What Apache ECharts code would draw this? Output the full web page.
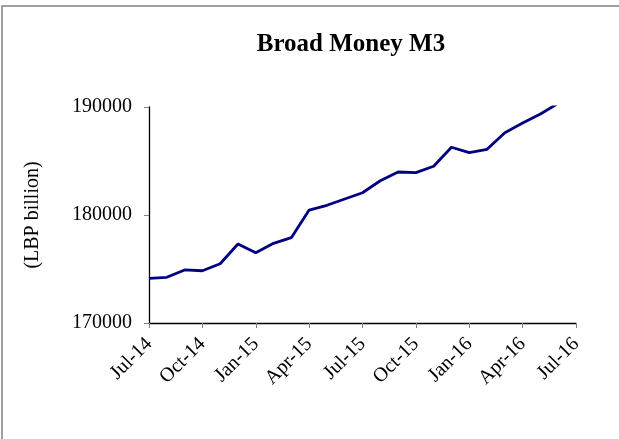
<!DOCTYPE html>
<html>
<head>
<meta charset="utf-8">
<script src="https://cdn.jsdelivr.net/npm/echarts@6/dist/echarts.min.js"></script>
<style>
  html, body { margin: 0; padding: 0; background: #fff; }
  #chart { width: 619px; height: 439px; }
</style>
</head>
<body>
<div id="chart"></div>
<script>
// 月份（Jul-14 .. Jul-16）
var months = [
  "Jul-14", "Aug-14", "Sep-14", "Oct-14", "Nov-14", "Dec-14",
  "Jan-15", "Feb-15", "Mar-15", "Apr-15", "May-15", "Jun-15",
  "Jul-15", "Aug-15", "Sep-15", "Oct-15", "Nov-15", "Dec-15",
  "Jan-16", "Feb-16", "Mar-16", "Apr-16", "May-16", "Jun-16",
  "Jul-16"
];
// Broad Money M3 (LBP billion)
var m3Values = [
  174140, 174230, 174910, 174840, 175490, 177310,
  176510, 177380, 177900, 180460, 180900, 181480,
  182060, 183170, 183980, 183920, 184510, 186270,
  185770, 186080, 187620, 188520, 189350, 190340
];
var yTicks = [170000, 180000, 190000];

var serif = "'Liberation Serif', 'DejaVu Serif', serif";
var myChart = echarts.init(document.getElementById("chart"));

var option = {
  backgroundColor: "#fff",
  animation: false,
  title: {
    text: "Broad Money M3",
    left: 346,
    top: 27,
    textAlign: "center",
    textStyle: {
      fontFamily: serif,
      fontWeight: "bold",
      fontSize: 25,
      color: "#000"
    }
  },
  graphic: [
    {
      type: "polyline",
      shape: { points: [[2, 439], [2, 6], [619, 6]] },
      style: { stroke: "#808080", lineWidth: 1.5, fill: null }
    }
  ],
  grid: {
    left: 149,
    right: 43,
    top: 107,
    bottom: 116
  },
  xAxis: {
    type: "category",
    boundaryGap: false,
    data: months,
    axisLine: { lineStyle: { color: "#000", width: 1.3 } },
    axisTick: {
      show: true,
      interval: 2,
      length: 5,
      lineStyle: { color: "#808080" }
    },
    axisLabel: {
      interval: 2,
      rotate: 45,
      margin: 18,
      fontFamily: serif,
      fontSize: 20,
      color: "#000"
    },
    splitLine: { show: false }
  },
  yAxis: {
    type: "value",
    min: yTicks[0],
    max: yTicks[yTicks.length - 1],
    interval: 10000,
    name: "(LBP billion)",
    nameLocation: "middle",
    nameRotate: 90,
    nameGap: 106,
    nameTextStyle: {
      fontFamily: serif,
      fontSize: 20,
      color: "#000"
    },
    axisLine: { show: true, lineStyle: { color: "#000", width: 1.3 } },
    axisTick: {
      show: true,
      length: 5,
      lineStyle: { color: "#808080" }
    },
    axisLabel: {
      margin: 17,
      fontFamily: serif,
      fontSize: 20,
      color: "#000",
      formatter: function (v) { return String(v); }
    },
    splitLine: { show: false }
  },
  series: [
    {
      type: "line",
      data: m3Values,
      symbol: "none",
      clip: true,
      lineStyle: { color: "#000080", width: 2.8 }
    }
  ]
};

myChart.setOption(option);
</script>
</body>
</html>
